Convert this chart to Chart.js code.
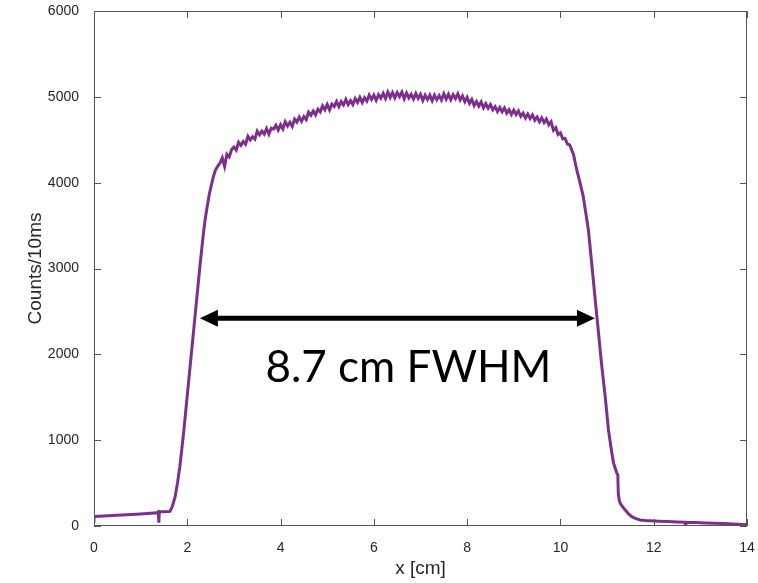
<!DOCTYPE html>
<html>
<head>
<meta charset="utf-8">
<script src="https://cdn.jsdelivr.net/npm/chart.js@4.4.1/dist/chart.umd.min.js"></script>
<style>
  html, body { margin: 0; padding: 0; background: #fff; }
</style>
</head>
<body>
<canvas id="chart" width="758" height="583"></canvas>
<script>
// x positions [cm]
const posCm = [
  0, 0, 0, 0.5, 1.0, 1.38, 1.39, 1.39, 1.40, 1.5, 1.63, 1.68, 1.74, 1.79, 1.84, 1.92, 1.99, 2.06, 2.13, 2.20,
  2.27, 2.34, 2.38, 2.42, 2.47, 2.52, 2.56, 2.60, 2.66, 2.70, 2.75, 2.80, 2.85, 2.90, 2.95,
  3.00, 3.05, 3.10, 3.15, 3.20, 3.25, 3.30, 3.35, 3.40, 3.45, 3.50, 3.55, 3.60, 3.65, 3.70, 3.75, 3.80, 3.85, 3.90, 3.95,
  4.00, 4.05, 4.10, 4.15, 4.20, 4.25, 4.30, 4.35, 4.40, 4.45, 4.50, 4.55, 4.60, 4.65, 4.70, 4.75, 4.80, 4.85, 4.90, 4.95,
  5.00, 5.05, 5.10, 5.15, 5.20, 5.25, 5.30, 5.35, 5.40, 5.45, 5.50, 5.55, 5.60, 5.65, 5.70, 5.75, 5.80, 5.85, 5.90, 5.95,
  6.00, 6.05, 6.10, 6.15, 6.20, 6.25, 6.30, 6.35, 6.40, 6.45, 6.50, 6.55, 6.60, 6.65, 6.70, 6.75, 6.80, 6.85, 6.90, 6.95,
  7.00, 7.05, 7.10, 7.15, 7.20, 7.25, 7.30, 7.35, 7.40, 7.45, 7.50, 7.55, 7.60, 7.65, 7.70, 7.75, 7.80, 7.85, 7.90, 7.95,
  8.00, 8.05, 8.10, 8.15, 8.20, 8.25, 8.30, 8.35, 8.40, 8.45, 8.50, 8.55, 8.60, 8.65, 8.70, 8.75, 8.80, 8.85, 8.90, 8.95,
  9.00, 9.05, 9.10, 9.15, 9.20, 9.25, 9.30, 9.35, 9.40, 9.45, 9.50, 9.55, 9.60, 9.65, 9.70, 9.75, 9.80, 9.85, 9.90, 9.95,
  10.00, 10.05, 10.10, 10.15, 10.20,
  10.28, 10.35, 10.42, 10.49, 10.60, 10.67, 10.74, 10.81, 10.88, 10.96, 11.03, 11.10, 11.14, 11.21, 11.23, 11.24, 11.26, 11.28,
  11.33, 11.39, 11.46, 11.53, 11.62, 11.71, 11.82, 11.92, 12.1, 12.3, 12.5, 12.67, 12.68, 12.69, 12.9, 13.1, 13.3, 13.5, 13.7, 13.9, 14.0
];

// counts per 10 ms at each position
const counts = [
  40, 117, 110, 125, 140, 155, 186, 38, 165, 165, 170, 230, 342, 500, 691, 1080, 1468, 1856, 2245, 2633,
  3021, 3380, 3560, 3700, 3860, 3980, 4070, 4140, 4200, 4226, 4290, 4190, 4330, 4300, 4385,
  4415, 4380, 4470, 4435, 4480, 4448, 4540, 4498, 4535, 4508, 4600, 4558, 4600, 4565, 4630, 4565, 4635, 4623, 4670, 4613,
  4675, 4625, 4710, 4660, 4705, 4655, 4740, 4705, 4765, 4715, 4770, 4735, 4820, 4785, 4835, 4790, 4855, 4825, 4895, 4850,
  4910, 4848, 4915, 4888, 4945, 4885, 4945, 4905, 4970, 4910, 4955, 4910, 4980, 4935, 4995, 4935, 4990, 4950, 5020, 4970,
  5020, 4960, 5025, 4983, 5040, 4980, 5055, 4993, 5050, 4988, 5050, 5003, 5055, 4978, 5045, 4988, 5030, 4973, 5040, 4983,
  5030, 4958, 5020, 4968, 5020, 4953, 5020, 4968, 5015, 4963, 5035, 4973, 5030, 4965, 5025, 4980, 5035, 4963, 5010, 4943,
  4995, 4925, 4970, 4898, 4945, 4893, 4940, 4873, 4920, 4868, 4910, 4848, 4885, 4828, 4875, 4825, 4870, 4810, 4850, 4795,
  4845, 4793, 4835, 4773, 4810, 4753, 4800, 4748, 4790, 4728, 4765, 4708, 4755, 4700, 4740, 4675, 4710, 4610, 4640, 4560,
  4580, 4510, 4515, 4450, 4440,
  4330, 4148, 4000, 3837, 3449, 3061, 2672, 2284, 1896, 1507, 1119, 860, 730, 614, 600, 384, 300, 268,
  225, 186, 140, 108, 85, 70, 63, 60, 56, 52, 48, 45, 20, 44, 40, 36, 33, 28, 24, 18, 15
];

const xTicks = [0, 2, 4, 6, 8, 10, 12, 14];
const yTicks = [0, 1000, 2000, 3000, 4000, 5000, 6000];

// FWHM annotation: arrow ends [cm] and height [counts]
const fwhmEnds = [2.27, 10.74];
const fwhmLevel = 2420;
const fwhmLabel = '8.7 cm FWHM';

const AXIS_COLOR = '#262626';
const TRACE = 'rgb(126,47,142)';
const FONT = '"Liberation Sans", Arial, Helvetica, sans-serif';

// MATLAB-like box with inward ticks on all four sides
const boxTicks = {
    id: 'boxTicks',
    afterDraw(chart) {
        const { ctx, chartArea: a, scales } = chart;
        const len = 7;
        ctx.save();
        ctx.strokeStyle = '#555';
        ctx.lineWidth = 1;
        ctx.strokeRect(a.left + 0.5, a.top + 0.5, a.right - a.left - 1, a.bottom - a.top - 1);
        ctx.beginPath();
        for (const v of xTicks) {
            const px = Math.round(scales.x.getPixelForValue(v)) + 0.5;
            ctx.moveTo(px, a.bottom); ctx.lineTo(px, a.bottom - len);
            ctx.moveTo(px, a.top); ctx.lineTo(px, a.top + len);
        }
        for (const v of yTicks) {
            const py = Math.round(scales.y.getPixelForValue(v)) + 0.5;
            ctx.moveTo(a.left, py); ctx.lineTo(a.left + len, py);
            ctx.moveTo(a.right, py); ctx.lineTo(a.right - len, py);
        }
        ctx.stroke();
        ctx.restore();
    },
};

// double-headed arrow and label
const fwhmPlugin = {
    id: 'fwhm',
    afterDatasetsDraw(chart) {
        const { ctx, scales } = chart;
        const x1 = scales.x.getPixelForValue(fwhmEnds[0]);
        const x2 = scales.x.getPixelForValue(fwhmEnds[1]);
        const y = scales.y.getPixelForValue(fwhmLevel);
        const head = 18, half = 8.5;
        ctx.save();
        ctx.fillStyle = '#000';
        ctx.strokeStyle = '#000';
        ctx.lineWidth = 5;
        ctx.beginPath();
        ctx.moveTo(x1 + head - 2, y);
        ctx.lineTo(x2 - head + 2, y);
        ctx.stroke();
        ctx.beginPath();
        ctx.moveTo(x1, y); ctx.lineTo(x1 + head, y - half); ctx.lineTo(x1 + head, y + half); ctx.closePath();
        ctx.moveTo(x2, y); ctx.lineTo(x2 - head, y - half); ctx.lineTo(x2 - head, y + half); ctx.closePath();
        ctx.fill();
        ctx.font = '44px Lato, "Open Sans", sans-serif';
        ctx.textAlign = 'center';
        ctx.textBaseline = 'alphabetic';
        ctx.fillText(fwhmLabel, (x1 + x2) / 2 + 11, y + 64);
        ctx.restore();
    },
};

new Chart(document.getElementById('chart'), {
    type: 'scatter',
    data: {
        datasets: [{
            data: posCm.map((x, i) => ({ x, y: counts[i] })),
            showLine: true,
            borderColor: TRACE,
            borderWidth: 3,
            pointRadius: 0,
            tension: 0,
        }],
    },
    options: {
        responsive: false,
        animation: false,
        devicePixelRatio: 1,
        layout: { padding: { top: 11, right: 11, left: 0, bottom: 0 } },
        plugins: { legend: { display: false }, tooltip: { enabled: false } },
        scales: {
            x: {
                type: 'linear',
                min: 0, max: 14,
                afterBuildTicks: s => { s.ticks = xTicks.map(v => ({ value: v })); },
                afterFit: s => { s.height = 57; s.paddingLeft = 0; s.paddingRight = 0; },
                grid: { display: false },
                border: { display: false },
                ticks: { color: AXIS_COLOR, font: { family: FONT, size: 14 }, padding: 6, maxRotation: 0, callback: v => String(v) },
                title: { display: true, text: 'x [cm]', color: AXIS_COLOR, font: { family: FONT, size: 19 }, padding: { top: 0, bottom: 3 } },
            },
            y: {
                type: 'linear',
                min: 0, max: 6000,
                afterBuildTicks: s => { s.ticks = yTicks.map(v => ({ value: v })); },
                afterFit: s => { s.width = 94; s.paddingTop = 0; s.paddingBottom = 0; },
                grid: { display: false },
                border: { display: false },
                ticks: { color: AXIS_COLOR, font: { family: FONT, size: 14 }, padding: 7, callback: v => String(v) },
                title: { display: true, text: 'Counts/10ms', color: AXIS_COLOR, font: { family: FONT, size: 19 }, padding: { top: 24, bottom: 0 } },
            },
        },
    },
    plugins: [boxTicks, fwhmPlugin],
});
</script>
</body>
</html>
